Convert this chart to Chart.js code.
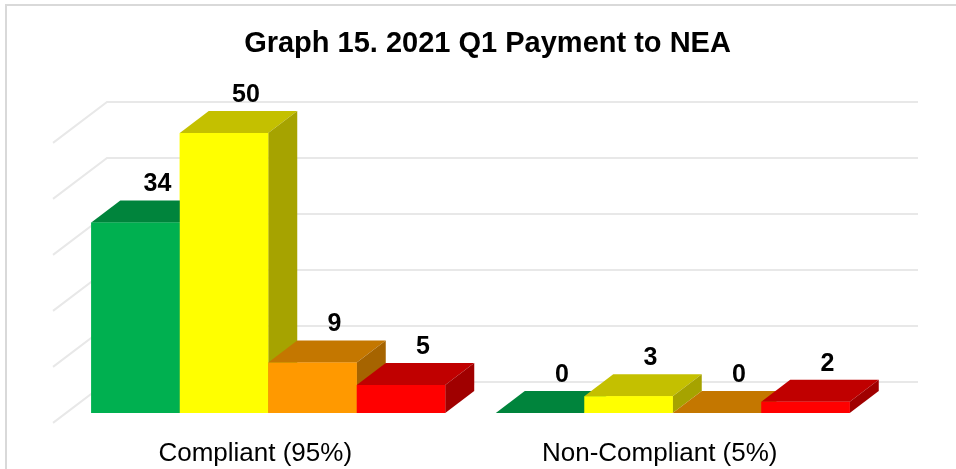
<!DOCTYPE html>
<html>
<head>
<meta charset="utf-8">
<script src="https://cdn.jsdelivr.net/npm/chart.js@4.4.0/dist/chart.umd.min.js"></script>
<style>
  body { margin: 0; background: #fff; }
</style>
</head>
<body>
<canvas id="myChart" width="956" height="469"></canvas>
<script>
// data
const categories = ["Compliant (95%)", "Non-Compliant (5%)"];
const seriesNames = ["Green", "Yellow", "Orange", "Red"];
const greenValues = [34, 0];
const yellowValues = [50, 3];
const orangeValues = [9, 0];
const redValues = [5, 2];
const yTicks = [0, 10, 20, 30, 40, 50];

// face colours: front, top, side
const frontColors = ["#00b050", "#ffff00", "#ff9900", "#ff0000"];
const topColors = ["#00843c", "#c4c000", "#c47700", "#c00000"];
const sideColors = ["#006f32", "#a6a300", "#a66400", "#a00000"];

const FONT = '"Liberation Sans", Arial, sans-serif';

// fake 3d depth
const depthX = 29, depthY = -22;
const slope = depthY / depthX;
const wallFront = -13, wallBack = 41;

const bars3d = {
  id: "bars3d",
  beforeDraw(chart) {
    const ctx = chart.ctx;
    ctx.save();
    ctx.strokeStyle = "#d9d9d9";
    ctx.lineWidth = 2;
    ctx.strokeRect(6, 5, chart.width + 20, chart.height + 20);
    ctx.restore();
  },
  beforeDatasetsDraw(chart) {
    const { ctx, chartArea } = chart;
    const y = chart.scales.y;
    ctx.save();
    ctx.strokeStyle = "#e8e8e8";
    ctx.lineWidth = 2;
    yTicks.forEach(v => {
      const py = y.getPixelForValue(v);
      ctx.beginPath();
      ctx.moveTo(chartArea.left + wallFront, py + wallFront * slope);
      ctx.lineTo(chartArea.left + wallBack, py + wallBack * slope);
      ctx.lineTo(chartArea.right + wallBack + 2, py + wallBack * slope);
      ctx.stroke();
    });
    ctx.restore();
  },
  afterDatasetsDraw(chart) {
    const ctx = chart.ctx;
    ctx.save();
    categories.forEach((c, j) => {
      chart.data.datasets.forEach((ds, i) => {
        const el = chart.getDatasetMeta(i).data[j];
        const l = el.x - el.width / 2, r = el.x + el.width / 2;
        const t = el.y, b = el.base;
        // top
        ctx.fillStyle = topColors[i];
        ctx.beginPath();
        ctx.moveTo(l, t);
        ctx.lineTo(l + depthX, t + depthY);
        ctx.lineTo(r + depthX, t + depthY);
        ctx.lineTo(r, t);
        ctx.closePath();
        ctx.fill();
        // side
        ctx.fillStyle = sideColors[i];
        ctx.beginPath();
        ctx.moveTo(r, t);
        ctx.lineTo(r + depthX, t + depthY);
        ctx.lineTo(r + depthX, b + depthY);
        ctx.lineTo(r, b);
        ctx.closePath();
        ctx.fill();
        // front
        ctx.fillStyle = frontColors[i];
        ctx.fillRect(l, t, r - l, b - t);
      });
    });
    // value labels
    ctx.fillStyle = "#000";
    ctx.font = "bold 25px " + FONT;
    ctx.textAlign = "center";
    ctx.textBaseline = "middle";
    chart.data.datasets.forEach((ds, i) => {
      chart.getDatasetMeta(i).data.forEach((el, j) => {
        ctx.fillText(String(ds.data[j]), el.x + 22, el.y + depthY - 16);
      });
    });
    ctx.restore();
  }
};

const allValues = [greenValues, yellowValues, orangeValues, redValues];

new Chart(document.getElementById("myChart"), {
  type: "bar",
  data: {
    labels: categories,
    datasets: allValues.map((vals, i) => ({
      label: seriesNames[i],
      data: vals,
      backgroundColor: frontColors[i],
      borderWidth: 0,
      barPercentage: 1,
      categoryPercentage: 0.875
    }))
  },
  options: {
    responsive: false,
    animation: false,
    layout: { padding: { left: 19, right: 0, top: 17, bottom: 0 } },
    plugins: {
      legend: { display: false },
      tooltip: { enabled: false },
      title: {
        display: true,
        text: "Graph 15. 2021 Q1 Payment to NEA",
        color: "#000",
        font: { family: FONT, size: 29, weight: "bold" },
        padding: { top: 10, bottom: 71.2 }
      }
    },
    scales: {
      x: {
        grid: { display: false, drawTicks: false },
        border: { display: false },
        ticks: {
          color: "#000",
          font: { family: FONT, size: 26 },
          padding: 25.5,
          labelOffset: -13
        },
        afterFit(scale) { scale.height = 56; }
      },
      y: {
        min: yTicks[0],
        max: yTicks[yTicks.length - 1],
        ticks: { display: false, stepSize: 10 },
        grid: { display: false, drawTicks: false },
        border: { display: false },
        afterFit(scale) { scale.width = 47; }
      },
      yR: {
        type: "linear",
        position: "right",
        ticks: { display: false },
        grid: { display: false, drawTicks: false },
        border: { display: false },
        afterFit(scale) { scale.width = 81; }
      }
    }
  },
  plugins: [bars3d]
});
</script>
</body>
</html>
